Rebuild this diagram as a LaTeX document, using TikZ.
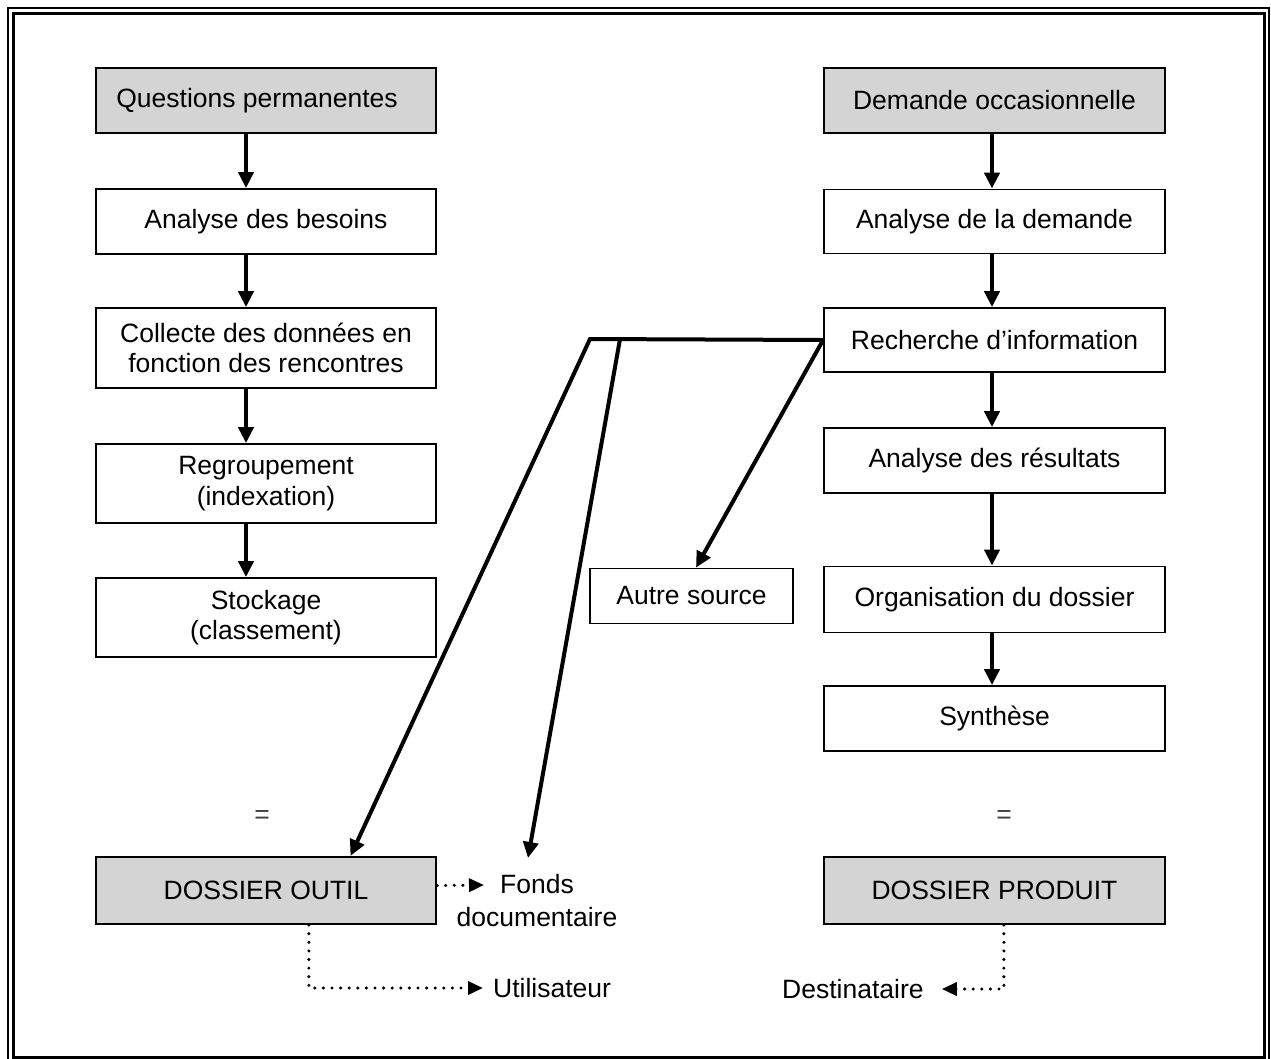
\documentclass[tikz,border=0pt]{standalone}
\usepackage{fontspec}
\setmainfont{Liberation Sans}
\usetikzlibrary{arrows.meta,calc}
\definecolor{boxgray}{RGB}{212,212,212}
\newcommand\diagfont{\fontsize{26.5}{31.5}\selectfont}
\begin{document}
\begin{tikzpicture}[x=1pt,y=-1pt,
  box/.style={draw=black,line width=1.8pt,fill=white,minimum width=340pt,inner sep=0pt,align=center,font=\diagfont},
  gbox/.style={box,fill=boxgray,line width=2.2pt},
  arr/.style={line width=4pt,-{Triangle[length=16pt,width=15pt]}},
  dots/.style={line width=3.4pt,line cap=round,dash pattern=on 0pt off 8.6pt,-{Triangle[length=15pt,width=13pt]}},
  lbl/.style={font=\diagfont,inner sep=0pt,align=center}]
\useasboundingbox (0,0) rectangle (1271,1058);
% frame
\draw[line width=2pt] (8,8) rectangle (1269,1066);
\draw[line width=3pt] (13.7,13.7) rectangle (1264.5,1057);
% left column
\node[gbox,minimum height=65pt] (qp) at (266,100.5) {Questions permanentes\hspace*{18pt}};
\node[box,minimum height=65pt] (ab) at (266,221.5) {Analyse des besoins};
\node[box,minimum height=80pt,font=\fontsize{26.5}{30.5}\selectfont] (col) at (266,348) {Collecte des donn\'ees en\\fonction des rencontres};
\node[box,minimum height=79pt,font=\fontsize{26.5}{30.5}\selectfont] (reg) at (266,483.5) {Regroupement\\(indexation)};
\node[box,minimum height=79pt,font=\fontsize{26.5}{30.5}\selectfont] (sto) at (266,617.5) {Stockage\\(classement)};
\node[gbox,minimum height=67pt] (dout) at (266,890.5) {DOSSIER OUTIL};
% right column
\node[gbox,minimum width=341pt,minimum height=65pt] (dem) at (994.5,100.5) {Demande occasionnelle};
\node[box,minimum width=341pt,minimum height=64pt] (ad) at (994.5,221.5) {Analyse de la demande};
\node[box,minimum width=341pt,minimum height=64pt] (ri) at (994.5,340) {Recherche d’information};
\node[box,minimum width=341pt,minimum height=65pt] (ar) at (994.5,460.5) {Analyse des r\'esultats};
\node[box,minimum width=341pt,minimum height=66pt] (org) at (994.5,599.5) {Organisation du dossier};
\node[box,minimum width=341pt,minimum height=65pt] (syn) at (994.5,718.5) {Synth\`ese};
\node[gbox,minimum width=341pt,minimum height=67pt] (dpro) at (994.5,890.5) {DOSSIER PRODUIT};
% other source
\node[box,minimum width=203pt,minimum height=55pt] (aut) at (691.5,596) {Autre source};
% equal signs
\node[lbl,text=black!75] (eq1) at (262,817) {=};
\node[lbl,text=black!75] (eq2) at (1004,817) {=};
% labels
\node[lbl,font=\fontsize{26.5}{33}\selectfont] (fonds) at (537,901) {Fonds\\documentaire};
\node[lbl,anchor=west] (uti) at (493,988) {Utilisateur};
\node[lbl,anchor=west] (dest) at (782,989) {Destinataire};
% column axes
\coordinate (lx) at (246,0);
\coordinate (rx) at (992,0);
% vertical arrows
\draw[arr] (qp.south -| lx) -- (ab.north -| lx);
\draw[arr] (ab.south -| lx) -- (col.north -| lx);
\draw[arr] (col.south -| lx) -- (reg.north -| lx);
\draw[arr] (reg.south -| lx) -- (sto.north -| lx);
\draw[arr] (dem.south -| rx) -- (ad.north -| rx);
\draw[arr] (ad.south -| rx) -- (ri.north -| rx);
\draw[arr] (ri.south -| rx) -- (ar.north -| rx);
\draw[arr] (ar.south -| rx) -- (org.north -| rx);
\draw[arr] (org.south -| rx) -- (syn.north -| rx);
% links from Recherche
\coordinate (j1) at (590,339);
\coordinate (j2) at (620,339);
\coordinate (fondsTip) at (528,858);
\coordinate (fondsIn) at (484,885);
\draw[arr] (ri.west) -- (j1) -- ($(dout.north west)!0.747!(dout.north east)$);
\draw[arr] (j2) -- (fondsTip);
\draw[arr] (ri.west) -- ($(aut.north west)!0.522!(aut.north east)$);
% dotted arrows
\draw[dots] ($(dout.east)+(0,-5)$) -- (fondsIn);
\draw[dots] ($(dout.south west)+(214,0)$) |- ($(uti.west)+(-10,0)$);
\draw[dots] ($(dpro.south west)+(181,0)$) |- ($(dest.east)+(18,0)$);
\end{tikzpicture}
\end{document}
